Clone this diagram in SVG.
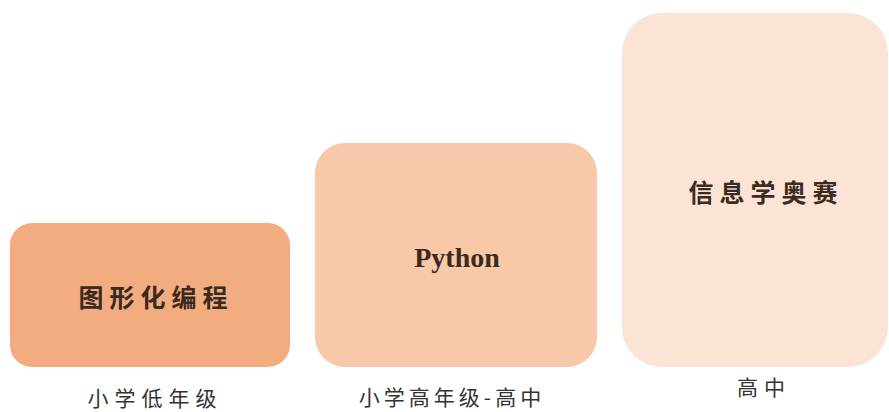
<svg xmlns="http://www.w3.org/2000/svg" width="889" height="412" viewBox="0 0 889 412">
<style>
.cn{font-family:"Noto Sans CJK SC","Noto Sans CJK JP",sans-serif;text-anchor:middle}
.box-t{font-size:25px;fill:#3b2a1e;letter-spacing:6px;font-weight:bold}
.lbl{font-size:21px;fill:#333;letter-spacing:6px}
.py{font-family:"Liberation Serif",serif;font-size:28px;fill:#3b2a1e;text-anchor:middle;font-weight:bold}
</style>
<rect width="889" height="412" fill="#fff"/>
<g id="node1">
<rect x="10" y="223" width="280" height="144" rx="22" fill="#f3ac80"/>
<text class="cn box-t" x="156" y="307">图形化编程</text>
<text class="cn lbl" x="155" y="406">小学低年级</text>
</g>
<g id="node2">
<rect x="315" y="143" width="282" height="224" rx="30" fill="#f8c9a9"/>
<text class="py" x="457" y="267">Python</text>
<text class="cn lbl" x="452" y="405" style="letter-spacing:4px">小学高年级-高中</text>
</g>
<g id="node3">
<rect x="622" y="13" width="266" height="354" rx="40" fill="#fbe3d6"/>
<text class="cn box-t" x="766" y="202">信息学奥赛</text>
<text class="cn lbl" x="764" y="395">高中</text>
</g>
<g id="connectors"/>
</svg>
